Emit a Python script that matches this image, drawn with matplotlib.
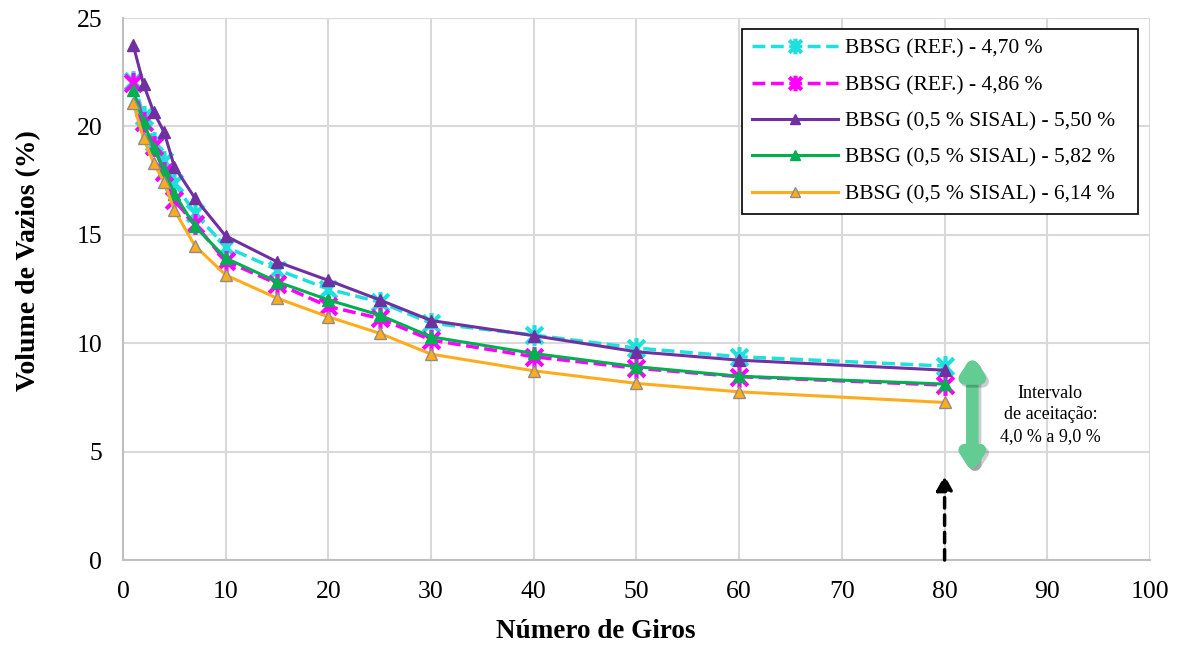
import matplotlib
matplotlib.use("Agg")
from matplotlib import pyplot as plt
from matplotlib.path import Path
import matplotlib.patheffects as pe

plt.rcParams['font.family'] = ['Liberation Serif', 'DejaVu Serif']

# numero de giros
giros = [1, 2, 3, 4, 5, 7, 10, 15, 20, 25, 30, 40, 50, 60, 80]

# volume de vazios (%)
ref_470 = [22.1, 20.5, 19.3, 18.4, 17.4, 16.0, 14.45, 13.4, 12.5, 11.9, 10.93, 10.38, 9.78, 9.38, 8.95]
ref_486 = [22.0, 20.2, 19.1, 17.9, 16.6, 15.5, 13.8, 12.75, 11.7, 11.15, 10.15, 9.38, 8.85, 8.46, 8.07]
sis_550 = [23.75, 21.95, 20.65, 19.75, 18.15, 16.7, 14.95, 13.76, 12.9, 12.0, 11.05, 10.35, 9.61, 9.22, 8.76]
sis_582 = [21.7, 20.2, 19.0, 18.0, 16.9, 15.4, 13.93, 12.84, 12.0, 11.3, 10.3, 9.53, 8.92, 8.48, 8.12]
sis_614 = [21.07, 19.45, 18.3, 17.45, 16.15, 14.5, 13.15, 12.08, 11.22, 10.46, 9.5, 8.73, 8.15, 7.76, 7.27]

labels = ["BBSG (REF.) - 4,70 %", "BBSG (REF.) - 4,86 %",
          "BBSG (0,5 % SISAL) - 5,50 %", "BBSG (0,5 % SISAL) - 5,82 %",
          "BBSG (0,5 % SISAL) - 6,14 %"]

# asterisco estilo excel (x + barra vertical)
star = Path([(-1, -1), (1, 1), (-1, 1), (1, -1), (0, -1.25), (0, 1.25)],
            [Path.MOVETO, Path.LINETO, Path.MOVETO, Path.LINETO, Path.MOVETO, Path.LINETO])

fig = plt.figure(figsize=(11.79, 6.46), dpi=100)
ax = fig.add_axes([0.1043, 0.133, 0.8711, 0.839])

ax.plot(giros, ref_470, c='#1ee0dc', ls='--', lw=2.5, marker=star, ms=15, mew=3, label=labels[0])
ax.plot(giros, ref_486, c='#ff00ff', ls='--', lw=2.5, marker=star, ms=15, mew=3, label=labels[1])
ax.plot(giros, sis_550, c='#7030a0', lw=2.2, marker='^', ms=9, label=labels[2])
ax.plot(giros, sis_582, c='#00b050', lw=2.2, marker='^', ms=9, label=labels[3])
ax.plot(giros, sis_614, c='#ffac1c', lw=2.2, marker='^', ms=9, mec='#8c8c8c', mew=1, label=labels[4])

ax.set_xlim(0, 100)
ax.set_ylim(0, 25)
ax.set_xticks(range(0, 101, 10))
ax.set_yticks(range(0, 26, 5))
ax.grid(True, color='#d9d9d9', lw=1.5)
ax.set_axisbelow(True)
ax.tick_params(length=0, labelsize=18.5)
ax.tick_params(axis='x', pad=15)
ax.tick_params(axis='y', pad=15)
for s in ['top', 'right']:
    ax.spines[s].set_visible(False)
for s in ['left', 'bottom']:
    ax.spines[s].set_color('#bfbfbf')
    ax.spines[s].set_linewidth(1.5)

ax.set_xlabel("Número de Giros", fontsize=19.5, fontweight='bold', va='center')
ax.set_ylabel("Volume de Vazios (%)", fontsize=20, fontweight='bold', va='center')
ax.xaxis.set_label_coords(0.4606, -0.131)
ax.yaxis.set_label_coords(-0.092, 0.553)

leg = ax.legend(loc='upper right', bbox_to_anchor=(0.6027, 0.5, 0.3855, 0.480), mode='expand',
                fontsize=15.5, frameon=True, fancybox=False, edgecolor='black', framealpha=1,
                borderaxespad=0, borderpad=0.45, labelspacing=0.76, handlelength=4.0,
                handletextpad=0.35, markerscale=0.75)
leg.get_frame().set_linewidth(1.2)

# intervalo de aceitacao
ax.annotate("", xy=(82.7, 4.0), xytext=(82.7, 9.45),
            arrowprops=dict(arrowstyle='<|-|>,head_length=0.85,head_width=0.55', lw=9,
                            color='#62cc93', shrinkA=0, shrinkB=0,
                            path_effects=[pe.SimpleLineShadow(offset=(2, -2), alpha=0.2), pe.Normal()]))
ax.text(90.3, 6.7, "Intervalo\nde aceitação:\n4,0 % a 9,0 %", ha='center', va='center',
        fontsize=13, linespacing=1.35)

ax.annotate("", xy=(80, 3.9), xytext=(80, 0),
            arrowprops=dict(arrowstyle='-|>,head_length=0.9,head_width=0.5', lw=2.5,
                            ls=(0, (3, 2)), color='black', shrinkA=0, shrinkB=0))

plt.savefig("out.png", dpi=100)
